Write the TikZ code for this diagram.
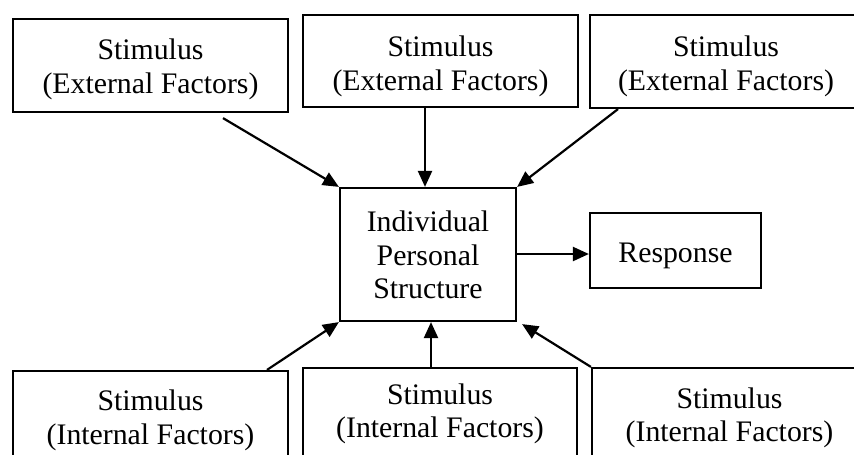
\documentclass[tikz,border=0pt]{standalone}
\usepackage{fontspec}
\setmainfont{Liberation Serif}
\usetikzlibrary{arrows.meta}
\newcommand{\btext}[2]{\raisebox{#1}[0pt][0pt]{\begin{tabular}{@{}c@{}}#2\end{tabular}}}
\begin{document}
\begin{tikzpicture}[x=1pt,y=-1pt,
  box/.style={draw, line width=2.2pt, rectangle, inner sep=0pt,
    font=\fontsize{29.8}{33.5}\selectfont},
  arr/.style={line width=2.2pt, -{Triangle[length=16pt,width=14pt]}}]
\useasboundingbox (0,0) rectangle (854,455);
\clip (0,0) rectangle (854,455);
% top row
\node[box, minimum width=275pt, minimum height=93pt] (tl) at (150.5,65.5) {\btext{-10.75pt}{Stimulus\\(External Factors)}};
\node[box, minimum width=275pt, minimum height=92pt] (tm) at (440.5,61) {\btext{-12pt}{Stimulus\\(External Factors)}};
\node[box, minimum width=272pt, minimum height=93pt] (tr) at (726,61.5) {\btext{-11.5pt}{Stimulus\\(External Factors)}};
% centre
\node[box, minimum width=176pt, minimum height=133pt] (c) at (428,254.5) {\btext{-10.5pt}{Individual\\Personal\\Structure}};
\node[box, minimum width=171pt, minimum height=75pt] (r) at (675.5,250.5) {\btext{-12pt}{Response}};
% bottom row
\node[box, minimum width=275pt, minimum height=93pt] (bl) at (150.5,417.5) {\btext{-9.75pt}{Stimulus\\(Internal Factors)}};
\node[box, minimum width=274pt, minimum height=93pt] (bm) at (440,414.5) {\btext{-6.25pt}{Stimulus\\(Internal Factors)}};
\node[box, minimum width=275pt, minimum height=93pt] (br) at (729.5,414.5) {\btext{-10.25pt}{Stimulus\\(Internal Factors)}};
% arrows
\draw[arr] ([xshift=72.5pt,yshift=-5pt]tl.south) -- (c.north west);
\draw[arr] ([xshift=-15.5pt]tm.south) -- ([xshift=-3pt]c.north);
\draw[arr] ([xshift=-108pt]tr.south) -- (c.north east);
\draw[arr] (c.east |- 0,254) -- (r.west |- 0,254);
\draw[arr] ([xshift=116.5pt]bl.north) -- (c.south west);
\draw[arr] ([xshift=-9pt]bm.north) -- ([xshift=3pt]c.south);
\draw[arr] (br.north west) -- ([xshift=5pt,yshift=-2pt]c.south east);
\end{tikzpicture}
\end{document}
